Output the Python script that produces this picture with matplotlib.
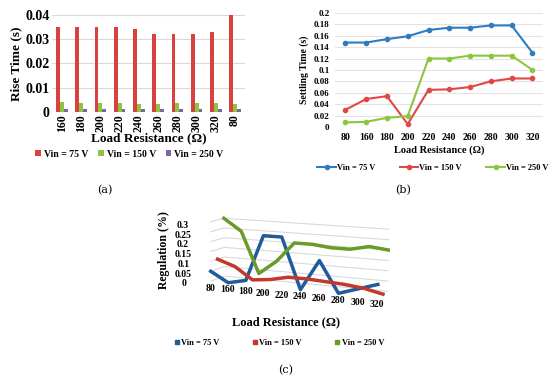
import numpy as np
import matplotlib
matplotlib.use("Agg")
import matplotlib.pyplot as plt
from matplotlib.patches import Patch

plt.rcParams["font.family"] = ["Liberation Serif", "DejaVu Serif"]
plt.rcParams["font.weight"] = "bold"
plt.rcParams["axes.labelweight"] = "bold"

# (a) rise time
rise_cats = ["160", "180", "200", "220", "240", "260", "280", "300", "320", "80"]
rise_75 = [0.035, 0.035, 0.035, 0.035, 0.034, 0.032, 0.032, 0.032, 0.033, 0.040]
rise_150 = [0.0040, 0.0035, 0.0035, 0.0035, 0.0033, 0.0033, 0.0035, 0.0035, 0.0035, 0.0033]
rise_250 = [0.0012, 0.0012, 0.0012, 0.0012, 0.0012, 0.0012, 0.0012, 0.0012, 0.0012, 0.0012]

# (b) settling time
settle_cats = ["80", "160", "180", "200", "220", "240", "260", "280", "300", "320"]
settle_75 = [0.148, 0.148, 0.154, 0.159, 0.170, 0.174, 0.174, 0.178, 0.178, 0.130]
settle_150 = [0.030, 0.049, 0.054, 0.005, 0.065, 0.066, 0.070, 0.080, 0.085, 0.085]
settle_250 = [0.008, 0.009, 0.016, 0.019, 0.120, 0.120, 0.125, 0.125, 0.125, 0.100]

# (c) regulation
reg_cats = ["80", "160", "180", "200", "220", "240", "260", "280", "300", "320"]
reg_75 = [0.05, 0.0, 0.02, 0.25, 0.25, 0.0, 0.15, 0.0, 0.03, 0.06]
reg_150 = [0.10, 0.07, 0.01, 0.02, 0.04, 0.04, 0.035, 0.03, 0.02, 0.0]
reg_250 = [0.30, 0.24, 0.03, 0.10, 0.20, 0.20, 0.19, 0.19, 0.21, 0.20]

series_labels = ["Vin = 75 V", "Vin = 150 V", "Vin = 250 V"]

fig = plt.figure(figsize=(5.5, 3.79), dpi=100)

# ---- (c) first, so the 2D charts sit on top of it ----
ax3 = fig.add_axes([0.266, 0.068, 0.54, 0.5], projection="3d")
ax3.patch.set_alpha(0)
xc = np.arange(len(reg_cats))
cols_c = ["#1f5c99", "#c0392b", "#6a9a2a"]
for depth, (vals, c) in enumerate(zip([reg_75, reg_150, reg_250], cols_c)):
    ax3.plot(xc, np.full(len(xc), depth), vals, color=c, lw=2.5)
ax3.set_xlim(0, len(xc) - 1)
ax3.set_ylim(0, 2)
ax3.set_zlim(0, 0.3)
ax3.set_xticks(xc)
ax3.set_xticklabels(reg_cats, fontsize=7)
ax3.set_yticks([])
ax3.set_zticks([0, 0.05, 0.1, 0.15, 0.2, 0.25, 0.3])
ax3.set_zticklabels(["0", "0.05", "0.1", "0.15", "0.2", "0.25", "0.3"], fontsize=7)
ax3.zaxis.set_ticks_position("lower")
ax3.xaxis.set_tick_params(pad=-5)
ax3.view_init(elev=10, azim=-65)
for axis in (ax3.xaxis, ax3.yaxis, ax3.zaxis):
    axis.set_pane_color((1, 1, 1, 0))
    axis.line.set_color((1, 1, 1, 0))
    axis._axinfo["tick"].update(inward_factor=0, outward_factor=0)
ax3.xaxis._axinfo["grid"].update(color=(1, 1, 1, 0))
ax3.yaxis._axinfo["grid"].update(color="#d9d9d9", linewidth=0.8)
ax3.zaxis._axinfo["grid"].update(color="#d9d9d9", linewidth=0.8)
ax3.set_box_aspect((2.2, 0.35, 0.74))

fig.text(0.298, 0.34, "Regulation (%)", rotation=90, ha="center", va="center", fontsize=8.5)
fig.text(0.52, 0.15, "Load Resistance (Ω)", ha="center", va="center", fontsize=9)
handles = [Patch(color=c, label=l) for c, l in zip(cols_c, series_labels)]
fig.legend(handles=handles, loc="center", bbox_to_anchor=(0.508, 0.095), ncol=3,
           frameon=False, fontsize=6, handlelength=0.5, handleheight=0.5,
           handletextpad=0.3, columnspacing=4)

# ---- (a) ----
ax1 = fig.add_axes([0.095, 0.705, 0.35, 0.256])
x = np.arange(len(rise_cats))
w = 0.2
ax1.bar(x - w, rise_75, w, color="#d9413f", label=series_labels[0])
ax1.bar(x, rise_150, w, color="#8cc63f", label=series_labels[1])
ax1.bar(x + w, rise_250, w, color="#8064a2", label=series_labels[2])
ax1.set_ylim(0, 0.04)
ax1.set_yticks([0, 0.01, 0.02, 0.03, 0.04])
ax1.set_yticklabels(["0", "0.01", "0.02", "0.03", "0.04"], fontsize=10)
ax1.set_xticks(x)
ax1.set_xticklabels(rise_cats, rotation=90, fontsize=8.5)
ax1.set_xlim(-0.5, len(x) - 0.5)
ax1.set_ylabel("Rise Time (s)", fontsize=9.5, labelpad=2)
ax1.set_xlabel("Load Resistance (Ω)", fontsize=9.5, labelpad=0)
ax1.grid(axis="y", color="#d9d9d9", lw=0.8)
ax1.set_axisbelow(True)
for s in ax1.spines.values():
    s.set_visible(False)
ax1.tick_params(length=0, pad=2)
ax1.legend(loc="upper center", bbox_to_anchor=(0.4, -0.30), ncol=3, frameon=False,
           fontsize=7, handlelength=0.6, handleheight=0.6, handletextpad=0.3,
           columnspacing=1.0)

# ---- (b) ----
ax2 = fig.add_axes([0.609, 0.665, 0.378, 0.301])
xb = np.arange(len(settle_cats))
cols_b = ["#2e7dc1", "#e04848", "#8cc63f"]
for vals, c, lab in zip([settle_75, settle_150, settle_250], cols_b, series_labels):
    ax2.plot(xb, vals, "-o", color=c, lw=1.5, ms=3, label=lab)
ax2.set_ylim(0, 0.2)
ax2.set_yticks(np.arange(0, 0.201, 0.02))
ax2.set_yticklabels(["0", "0.02", "0.04", "0.06", "0.08", "0.1", "0.12", "0.14",
                     "0.16", "0.18", "0.2"], fontsize=6.5)
ax2.set_xticks(xb)
ax2.set_xticklabels(settle_cats, fontsize=7)
ax2.set_xlim(-0.5, len(xb) - 0.5)
ax2.set_ylabel("Settling Time (s)", fontsize=7, labelpad=3)
ax2.set_xlabel("Load Resistance (Ω)", fontsize=7.5, labelpad=3)
ax2.grid(axis="y", color="#e3e3e3", lw=0.8)
ax2.set_axisbelow(True)
for s in ax2.spines.values():
    s.set_visible(False)
ax2.tick_params(length=0, pad=4)
ax2.legend(loc="upper center", bbox_to_anchor=(0.47, -0.26), ncol=3, frameon=False,
           fontsize=6, handlelength=2.2, handletextpad=0.1, columnspacing=3)

# captions
fig.text(0.191, 0.499, "(a)", ha="center", va="center", fontsize=8, fontweight="normal",
         family="DejaVu Serif")
fig.text(0.733, 0.499, "(b)", ha="center", va="center", fontsize=8, fontweight="normal",
         family="DejaVu Serif")
fig.text(0.52, 0.024, "(c)", ha="center", va="center", fontsize=8, fontweight="normal",
         family="DejaVu Serif")

fig.savefig("out.png", dpi=100)
